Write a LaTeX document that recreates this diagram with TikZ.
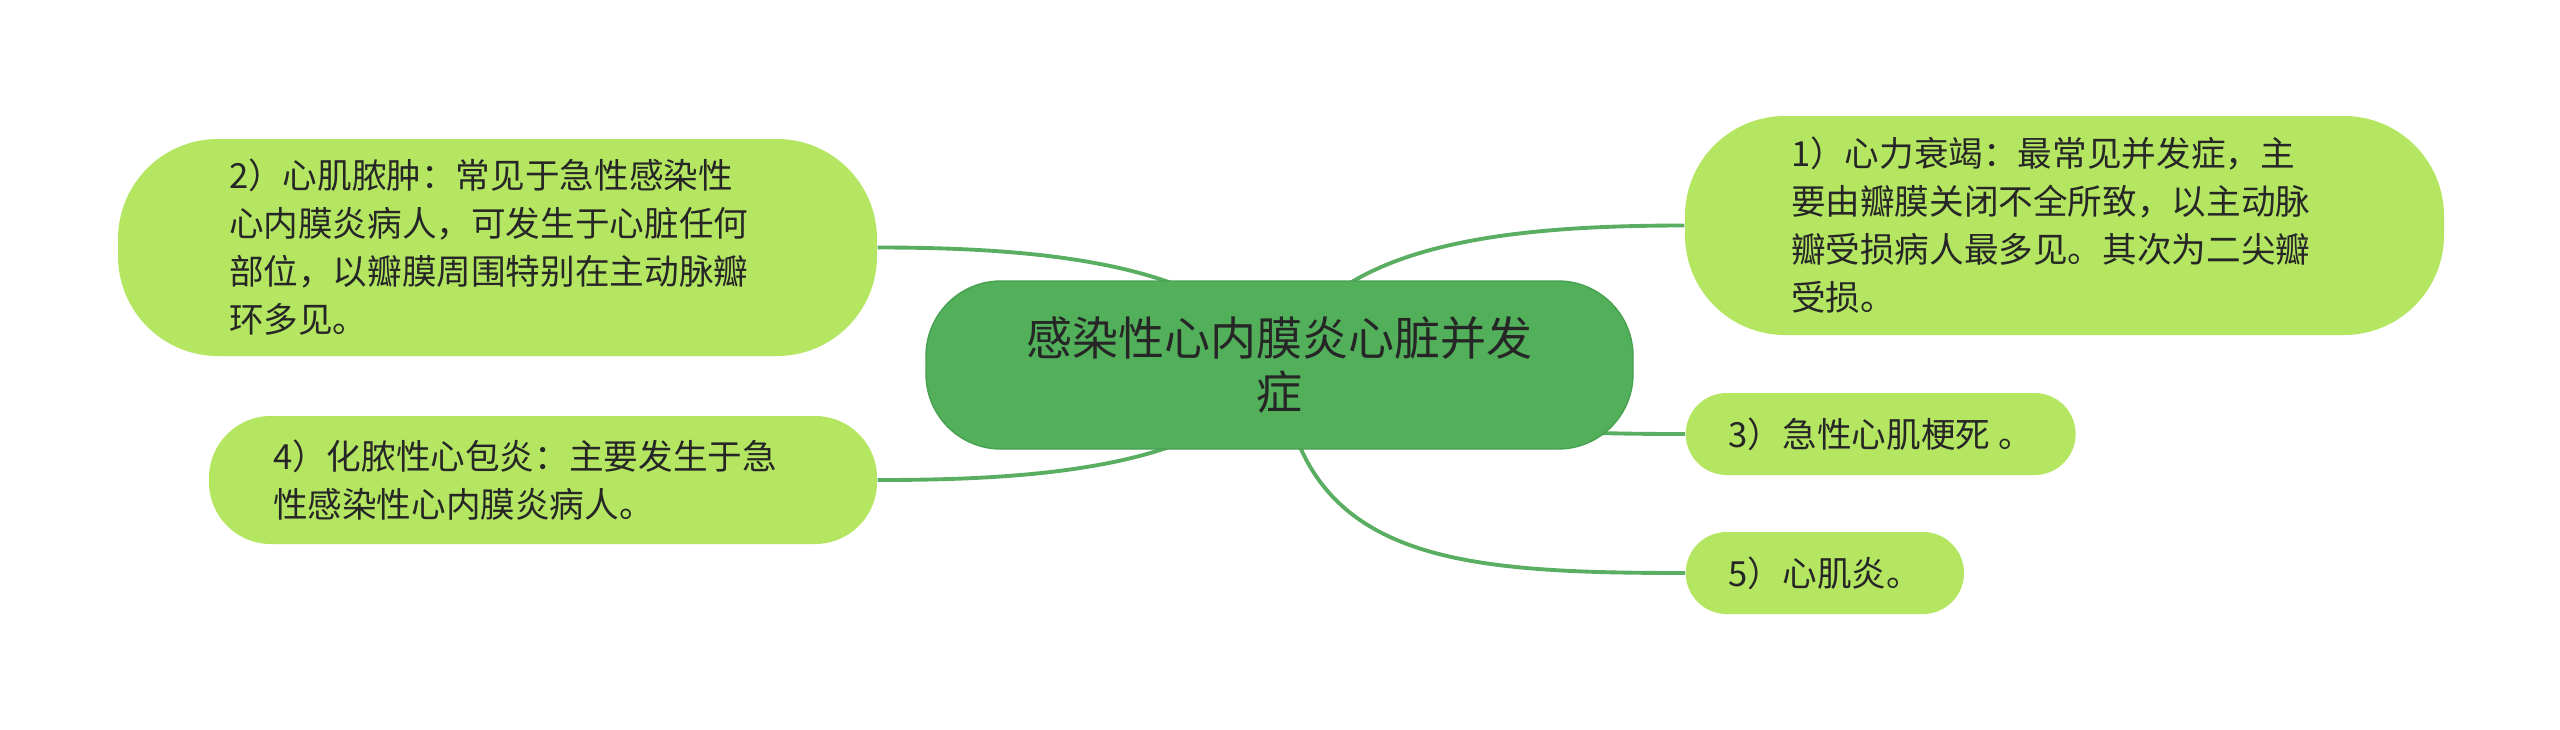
\documentclass[tikz,border=0pt]{standalone}
\usepackage{fontspec}
\setmainfont{Noto Sans CJK SC}
\usetikzlibrary{backgrounds}
\definecolor{rootgreen}{HTML}{52B05B}
\definecolor{rootedge}{HTML}{48A051}
\definecolor{leafgreen}{HTML}{B4E662}
\definecolor{linkgreen}{HTML}{5AAE62}
\definecolor{inkdark}{HTML}{262626}
\begin{document}
\begin{tikzpicture}
    \tikzset{root/.style = {fill=rootgreen,draw=rootedge,line width=0.4pt,text=inkdark,inner sep=0pt,
        minimum width=7.07cm,minimum height=1.68cm,rounded corners=0.75cm,align=center,
        font=\fontsize{13.1pt}{15.6pt}\selectfont}}
    \tikzset{leaf/.style = {fill=leafgreen,text=inkdark,inner sep=0pt,align=left,
        font=\fontsize{9.85pt}{13.66pt}\selectfont}}
    \tikzset{edge/.style = {draw=linkgreen,line width=1.1pt}}
    \useasboundingbox (0,0) rectangle (25.6,7.29);
    \node[root] (root) at (12.795,3.64) {感染性心内膜炎心脏并发\\症};
    \node[leaf,minimum width=7.59cm,minimum height=2.19cm,text width=5.47cm,rounded corners=1cm] (n1) at (20.645,5.035)
        {1）心力衰竭：最常见并发症，主\\要由瓣膜关闭不全所致，以主动脉\\瓣受损病人最多见。其次为二尖瓣\\受损。};
    \node[leaf,minimum width=7.59cm,minimum height=2.17cm,text width=5.37cm,rounded corners=1cm] (n2) at (4.975,4.815)
        {2）心肌脓肿：常见于急性感染性\\心内膜炎病人，可发生于心脏任何\\部位，以瓣膜周围特别在主动脉瓣\\环多见。};
    \node[leaf,anchor=west,inner xsep=0.43cm,minimum height=0.82cm,rounded corners=0.41cm] (n3) at (16.85,2.95)
        {3）急性心肌梗死 。};
    \node[leaf,minimum width=6.68cm,minimum height=1.28cm,text width=5.40cm,rounded corners=0.62cm] (n4) at (5.43,2.49)
        {4）化脓性心包炎：主要发生于急\\性感染性心内膜炎病人。};
    \node[leaf,anchor=west,inner xsep=0.43cm,minimum height=0.82cm,rounded corners=0.41cm] (n5) at (16.85,1.56)
        {5）心肌炎。};
    \begin{scope}[on background layer]
    \fill[white] (0,0) rectangle (25.6,7.29);
    \draw[edge] (root.center) .. controls +(0.45,1.2) and +(-1.85,0) .. (n1.west);
    \draw[edge] (root.center) .. controls +(-0.55,1.05) and +(1.5,0) .. (n2.east);
    \draw[edge] (root.center) .. controls +(1.21,-0.65) and +(-1.35,0) .. (n3.west);
    \draw[edge] (root.center) .. controls +(-0.55,-1.05) and +(1.5,0) .. (n4.east);
    \draw[edge] (root.center) .. controls +(0.21,-1.95) and +(-2.35,0) .. (n5.west);
    \end{scope}
\end{tikzpicture}
\end{document}
